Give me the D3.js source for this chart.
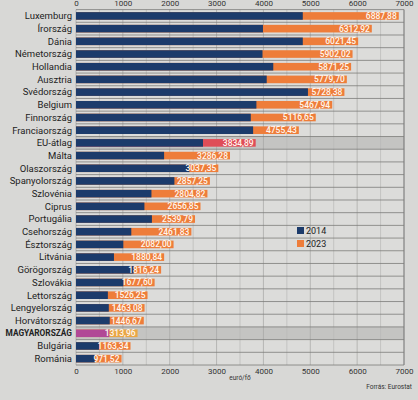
<!DOCTYPE html>
<html>
<head>
<meta charset="utf-8">
<script src="https://cdn.jsdelivr.net/npm/d3@7"></script>
<style>
  html, body { margin: 0; padding: 0; background: #d8d8d6; }
  svg { display: block; font-family: Roboto, "Liberation Sans", sans-serif; }
</style>
</head>
<body>
<div id="chart"></div>
<script>

// Chart data
// ==============================
var countries = ["Luxemburg", "Írország", "Dánia", "Németország", "Hollandia", "Ausztria",
  "Svédország", "Belgium", "Finnország", "Franciaország", "EU-átlag", "Málta", "Olaszország",
  "Spanyolország", "Szlovénia", "Ciprus", "Portugália", "Csehország", "Észtország", "Litvánia",
  "Görögország", "Szlovákia", "Lettország", "Lengyelország", "Horvátország", "MAGYARORSZÁG",
  "Bulgária", "Románia"];

var values2014 = [4840, 3990, 4840, 3980, 4210, 4070, 4950, 3850, 3730, 3780, 2710, 1880, 2420,
  2100, 1610, 1460, 1620, 1180, 1010, 810, 1230, 1010, 680, 700, 720, 710, 490, 400];

var values2023 = [6887.88, 6312.92, 6021.45, 5902.02, 5871.25, 5779.70, 5728.38, 5467.94, 5116.65,
  4755.43, 3834.89, 3286.28, 3037.35, 2857.25, 2804.82, 2656.85, 2539.79, 2461.83, 2082.00,
  1880.84, 1816.24, 1677.60, 1526.25, 1463.08, 1446.67, 1313.96, 1163.34, 971.52];

var xTicks = [0, 1000, 2000, 3000, 4000, 5000, 6000, 7000];
var gridTicks = d3.range(0, 7001, 500);

var seriesNames = ["2014", "2023"];

var euName = "EU-átlag";
var huName = "MAGYARORSZÁG";

// Set chart parameters
// ==============================
var svgWidth = 418;
var svgHeight = 400;

var margin = { top: 9.6, right: 14, bottom: 35, left: 76 };
var width = svgWidth - margin.left - margin.right;
var height = svgHeight - margin.top - margin.bottom;

var navy = "#1c3b6b";
var orange = "#ee7d3a";

var data = countries.map(function(c, i) {
  return { name: c, v14: values2014[i], v23: values2023[i] };
});

var svg = d3.select("#chart")
  .append("svg")
  .attr("width", svgWidth)
  .attr("height", svgHeight);

svg.append("rect")
  .attr("width", svgWidth)
  .attr("height", svgHeight)
  .attr("fill", "#d8d8d6");

var chartGroup = svg.append("g")
  .attr("transform", `translate(${margin.left}, ${margin.top})`);

// Scales
// ==============================
var xScale = d3.scaleLinear()
  .domain([0, 7000])
  .range([0, width]);

var yScale = d3.scaleBand()
  .domain(countries)
  .range([0, height])
  .paddingInner(0.4)
  .paddingOuter(0.2);

var step = yScale.step();

// Plot background and highlighted rows
// ==============================
chartGroup.append("rect")
  .attr("width", width)
  .attr("height", height)
  .attr("fill", "#dcdcda");

chartGroup.selectAll(".hl")
  .data([euName, huName])
  .enter()
  .append("rect")
  .attr("x", 0)
  .attr("y", d => yScale(d) - yScale.paddingInner() * step / 2)
  .attr("width", width)
  .attr("height", step)
  .attr("fill", "#c4c4c2");

// Grid lines
// ==============================
chartGroup.selectAll(".vgrid")
  .data(gridTicks)
  .enter()
  .append("line")
  .attr("x1", d => xScale(d))
  .attr("x2", d => xScale(d))
  .attr("y1", 0)
  .attr("y2", height)
  .attr("stroke", d => d === 7000 ? "#6e6e6e" : (d % 1000 === 0 ? "#a5a5a3" : "#b8b8b6"))
  .attr("stroke-width", d => d === 7000 ? 1 : 0.7);

chartGroup.selectAll(".hgrid")
  .data(d3.range(countries.length + 1))
  .enter()
  .append("line")
  .attr("x1", 0)
  .attr("x2", width)
  .attr("y1", i => i * step)
  .attr("y2", i => i * step)
  .attr("stroke", "#7c7c7a")
  .attr("stroke-width", 0.8);

// Bars: 2023 behind, 2014 in front
// ==============================
chartGroup.selectAll(".bar23")
  .data(data)
  .enter()
  .append("rect")
  .attr("x", 0)
  .attr("y", d => yScale(d.name))
  .attr("width", d => xScale(d.v23))
  .attr("height", yScale.bandwidth())
  .attr("fill", d => d.name === euName ? "#df4d58" : (d.name === huName ? "#e9a646" : orange));

chartGroup.selectAll(".bar14")
  .data(data)
  .enter()
  .append("rect")
  .attr("x", 0)
  .attr("y", d => yScale(d.name))
  .attr("width", d => xScale(d.v14))
  .attr("height", yScale.bandwidth())
  .attr("fill", d => d.name === huName ? "#b14896" : navy);

// Value labels (2023)
// ==============================
var fmt = d3.format(".2f");

chartGroup.selectAll(".val")
  .data(data)
  .enter()
  .append("text")
  .attr("x", d => xScale(d.v23) - 2)
  .attr("y", d => yScale(d.name) + yScale.bandwidth() / 2)
  .attr("dy", "0.35em")
  .attr("text-anchor", "end")
  .attr("font-size", "8.5px")
  .attr("font-weight", 500)
  .attr("fill", "#fff6ee")
  .text(d => fmt(d.v23).replace(".", ","));

// Country labels
// ==============================
chartGroup.selectAll(".cat")
  .data(data)
  .enter()
  .append("text")
  .attr("x", -4)
  .attr("y", d => yScale(d.name) + yScale.bandwidth() / 2)
  .attr("dy", "0.35em")
  .attr("text-anchor", "end")
  .attr("font-size", d => d.name === huName ? "8.3px" : "9.5px")
  .attr("font-weight", d => d.name === huName ? 700 : 400)
  .attr("fill", "#222")
  .text(d => d.name);

// Axes (top and bottom)
// ==============================
var topAxis = d3.axisTop(xScale).tickValues(xTicks).tickFormat(d3.format("d"))
  .tickSize(0).tickPadding(4);
var bottomAxis = d3.axisBottom(xScale).tickValues(xTicks).tickFormat(d3.format("d"))
  .tickSize(0).tickPadding(3);

var gTop = chartGroup.append("g").call(topAxis);
var gBottom = chartGroup.append("g")
  .attr("transform", `translate(0, ${height})`)
  .call(bottomAxis);

[gTop, gBottom].forEach(function(g) {
  g.select(".domain").remove();
  g.selectAll("text")
    .attr("font-size", "8px")
    .attr("font-family", "Roboto, sans-serif")
    .attr("fill", "#333");
});

// Axis unit and source
// ==============================
chartGroup.append("text")
  .attr("x", xScale(3500))
  .attr("y", height + 15)
  .attr("text-anchor", "middle")
  .attr("font-size", "6.5px")
  .attr("fill", "#333")
  .text("euró/fő");

svg.append("text")
  .attr("x", 412)
  .attr("y", 389)
  .attr("text-anchor", "end")
  .attr("font-size", "6.5px")
  .attr("fill", "#333")
  .text("Forrás: Eurostat");

// Legend
// ==============================
var legend = svg.append("g")
  .attr("transform", "translate(297, 227)");

legend.selectAll("rect")
  .data(seriesNames)
  .enter()
  .append("rect")
  .attr("x", 0)
  .attr("y", (d, i) => i * 13)
  .attr("width", 7)
  .attr("height", 7)
  .attr("fill", (d, i) => i === 0 ? navy : orange);

legend.selectAll("text")
  .data(seriesNames)
  .enter()
  .append("text")
  .attr("x", 9)
  .attr("y", (d, i) => i * 13 + 3.5)
  .attr("dy", "0.35em")
  .attr("font-size", "9px")
  .attr("fill", "#222")
  .text(d => d);

</script>
</body>
</html>
